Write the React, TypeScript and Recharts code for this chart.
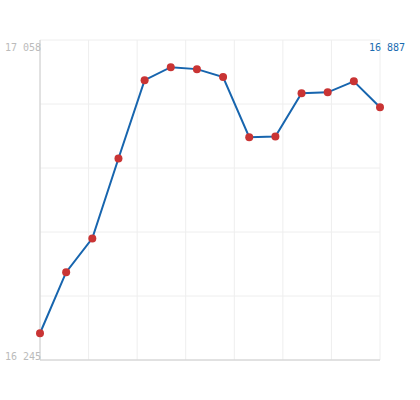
import { LineChart, Line, XAxis, YAxis, CartesianGrid, ReferenceDot } from 'recharts';

const points = [0, 1, 2, 3, 4, 5, 6, 7, 8, 9, 10, 11, 12, 13];
const values = [
  16313, 16468, 16554, 16757, 16956, 16989, 16984, 16964, 16811, 16813, 16923, 16925, 16953, 16887,
];
const yMin = 16245;
const yMax = 17058;

const data = points.map((p, i) => ({ x: p, value: values[i] }));
const lastX = points[points.length - 1];
const lastValue = values[values.length - 1];

// 5 horizontal bands, 7 vertical bands
const yTicks = Array.from({ length: 6 }, (_, i) => yMin + ((yMax - yMin) * i) / 5);
const xTicks = Array.from({ length: 8 }, (_, i) => (lastX * i) / 7);

const fmt = (n: number) => String(Math.round(n)).replace(/\B(?=(\d{3})+(?!\d))/g, ' ');
const FONT = '"DejaVu Sans Mono", monospace';

function YTick({ y, payload }: any) {
  const v = payload.value;
  if (v !== yMin && v !== yMax) return null;
  return (
    <text
      x={41}
      y={v === yMax ? y + 11 : y}
      textAnchor="end"
      fill="#bbb"
      fontSize={10}
      fontFamily={FONT}
    >
      {fmt(v)}
    </text>
  );
}

function LastLabel({ viewBox }: any) {
  const { x, y } = viewBox;
  return (
    <text x={x + 25} y={y + 11} textAnchor="end" fill="#1a6bb0" fontSize={10} fontFamily={FONT}>
      {fmt(lastValue)}
    </text>
  );
}

const NoTick = () => <g />;

export default function App() {
  return (
    <div style={{ position: 'absolute', left: 0, top: 0 }}>
      <LineChart width={420} height={400} data={data} margin={{ top: 40, right: 40, bottom: 10, left: 0 }}>
        <CartesianGrid stroke="#eee" />
        <XAxis
          dataKey="x"
          type="number"
          domain={[0, lastX]}
          ticks={xTicks}
          tick={<NoTick />}
          tickLine={false}
          axisLine={{ stroke: '#ccc' }}
          height={30}
          interval={0}
        />
        <YAxis
          type="number"
          domain={[yMin, yMax]}
          ticks={yTicks}
          tick={<YTick />}
          tickLine={false}
          axisLine={{ stroke: '#ccc' }}
          width={40}
          interval={0}
        />
        <Line
          type="linear"
          dataKey="value"
          stroke="#1765ae"
          strokeWidth={2}
          dot={{ r: 4, fill: '#c93434', stroke: 'none' }}
          activeDot={false}
          isAnimationActive={false}
        />
        <ReferenceDot x={lastX} y={yMax} r={0} stroke="none" label={<LastLabel />} />
      </LineChart>
    </div>
  );
}
